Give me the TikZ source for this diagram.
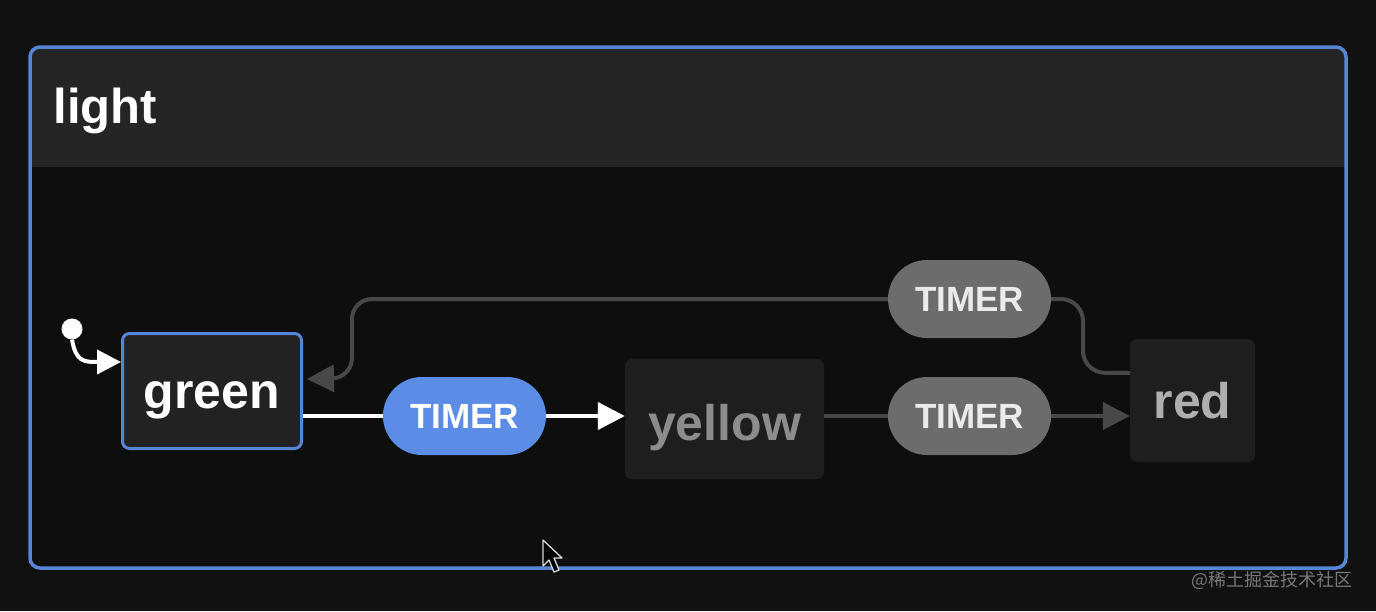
\documentclass[tikz,border=0pt]{standalone}
\usepackage{fontspec}
\setmainfont{Liberation Sans}
\newfontfamily\cjk{Noto Sans CJK SC}
\usetikzlibrary{arrows.meta}
\definecolor{bg}{RGB}{17,17,17}
\definecolor{body}{RGB}{14,14,14}
\definecolor{header}{RGB}{37,37,37}
\definecolor{frameblue}{RGB}{88,134,214}
\definecolor{pillblue}{RGB}{91,141,230}
\definecolor{pillgray}{RGB}{108,108,108}
\definecolor{nodefill}{RGB}{34,34,34}
\definecolor{dimfill}{RGB}{30,30,30}
\definecolor{dimline}{RGB}{72,72,72}
\definecolor{dimtext}{RGB}{140,140,140}
\definecolor{redtext}{RGB}{175,175,175}
\definecolor{wm}{RGB}{120,120,120}
\tikzset{
  statebox/.style={rounded corners=7pt, font=\bfseries\fontsize{50}{50}\selectfont, inner sep=0pt},
  pill/.style={rounded corners=39pt, minimum width=163pt, minimum height=78pt, inner sep=0pt,
    font=\bfseries\fontsize{35}{35}\selectfont},
  activeedge/.style={draw=white, line width=4pt},
  dimedge/.style={draw=dimline, line width=4pt},
  bigtip/.style={-{Triangle[length=27pt,width=27pt]}},
}
\begin{document}
\begin{tikzpicture}[x=1pt,y=-1pt]
\fill[bg] (0,0) rectangle (1376,611);
\useasboundingbox (0,0) rectangle (1376,611);
% outer machine box
\begin{scope}
  \clip[rounded corners=10pt] (30,47) rectangle (1346,568);
  \fill[body] (30,47) rectangle (1346,568);
  \fill[header] (30,47) rectangle (1346,167);
\end{scope}
\draw[frameblue, line width=3.5pt, rounded corners=10pt] (30,47) rectangle (1346,568);
\node[anchor=west, text=white, font=\bfseries\fontsize{49}{49}\selectfont] (title) at (50,111) {light};

% states
\node[statebox, draw=frameblue, line width=3pt, fill=nodefill, text=white,
  text height=34pt, text depth=0pt,
  minimum width=179pt, minimum height=115pt] (green) at (212,391) {green};
\node[statebox, fill=dimfill, text=dimtext,
  text height=42pt, text depth=0pt,
  minimum width=199pt, minimum height=120pt] (yellow) at (724.5,419) {yellow};
\node[statebox, fill=dimfill, text=redtext,
  minimum width=125pt, minimum height=123pt] (red) at (1192.5,400.5) {red};

% event pills
\node[pill, fill=pillblue, text=white] (t1) at (464.5,416) {TIMER};
\node[pill, fill=pillgray, text=white!92!black] (t2) at (969.5,416) {TIMER};
\node[pill, fill=pillgray, text=white!92!black] (t3) at (969.5,299) {TIMER};

% initial
\node[circle, fill=white, minimum size=21pt, inner sep=0pt] (init) at (72,329) {};
\draw[activeedge, -{Triangle[length=24pt,width=24pt]}]
  (init.south) .. controls (76,362) and (84,362) .. ([yshift=-30pt]green.north west);

% transitions
\draw[activeedge] (green.east |- t1.west) -- (t1.west);
\draw[activeedge, bigtip] (t1.east) -- (yellow.west |- t1.east);
\draw[dimedge] (yellow.east |- t2.west) -- (t2.west);
\draw[dimedge, bigtip] (t2.east) -- (red.west |- t2.east);
\coordinate (rout) at ([yshift=-34pt]red.north west);
\coordinate (gin) at ([yshift=-47pt]green.north east);
\draw[dimedge, rounded corners=22pt] (rout) -| (1083,299) -- (t3.east);
\draw[dimedge, bigtip, rounded corners=20pt] (t3.west) -| (352,378) -- ([xshift=4pt]gin);

% mouse pointer
\draw[fill=black, draw=white!85!black, line width=1.3pt, line join=round]
  (543,540) -- (543,566) -- (549,560) -- (554,572) -- (559,570) -- (554,558) -- (562,558) -- cycle;

% watermark
\node[anchor=east, text=wm, font=\cjk\fontsize{18}{18}\selectfont] (wmk) at (1356,580) {@稀土掘金技术社区};
\end{tikzpicture}
\end{document}
